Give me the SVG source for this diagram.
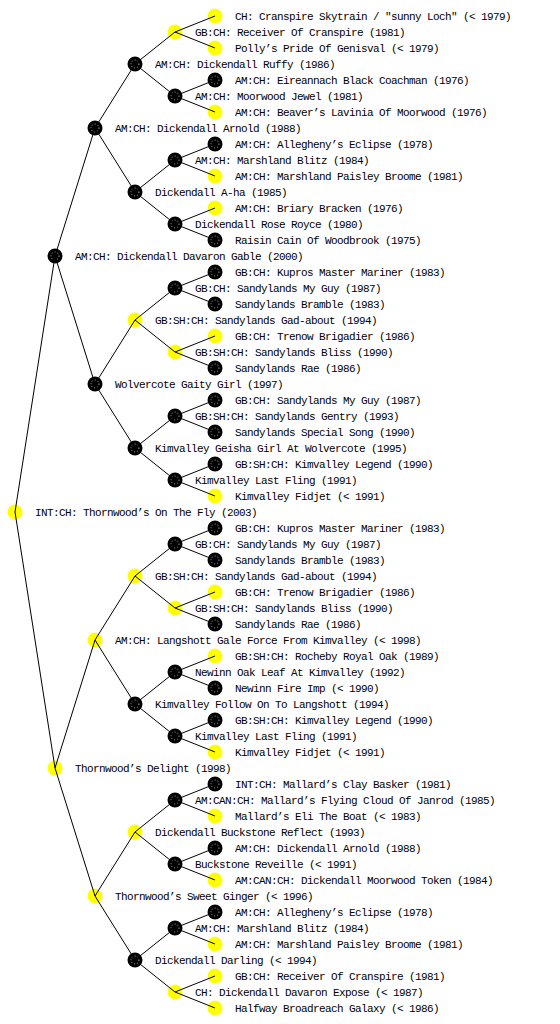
<svg xmlns="http://www.w3.org/2000/svg" width="560" height="1024" viewBox="0 0 560 1024">
<style>
.y{fill:#ffff00}
.b{fill:#000}
.d{fill:none;stroke:#fff;stroke-width:0.7;stroke-dasharray:1 2}
text{font-family:"Liberation Mono","DejaVu Sans Mono",monospace;font-size:11px;letter-spacing:-0.6px;fill:#000}
.e line{stroke:#000;stroke-width:1}
</style>
<rect width="560" height="1024" fill="#fff"/>
<g id="n0"><circle class="y" cx="15" cy="512" r="7.5"/><text x="35" y="516">INT:CH: Thornwood’s On The Fly (2003)</text></g>
<g id="n1"><circle class="b" cx="55" cy="256" r="7.5"/><circle class="d" cx="55" cy="256" r="4"/><text x="75" y="260">AM:CH: Dickendall Davaron Gable (2000)</text></g>
<g id="n2"><circle class="y" cx="55" cy="768" r="7.5"/><text x="75" y="772">Thornwood’s Delight (1998)</text></g>
<g id="n3"><circle class="b" cx="95" cy="128" r="7.5"/><circle class="d" cx="95" cy="128" r="4"/><text x="115" y="132">AM:CH: Dickendall Arnold (1988)</text></g>
<g id="n4"><circle class="b" cx="95" cy="384" r="7.5"/><circle class="d" cx="95" cy="384" r="4"/><text x="115" y="388">Wolvercote Gaity Girl (1997)</text></g>
<g id="n5"><circle class="y" cx="95" cy="640" r="7.5"/><text x="115" y="644">AM:CH: Langshott Gale Force From Kimvalley (&lt; 1998)</text></g>
<g id="n6"><circle class="y" cx="95" cy="896" r="7.5"/><text x="115" y="900">Thornwood’s Sweet Ginger (&lt; 1996)</text></g>
<g id="n7"><circle class="b" cx="135" cy="64" r="7.5"/><circle class="d" cx="135" cy="64" r="4"/><text x="155" y="68">AM:CH: Dickendall Ruffy (1986)</text></g>
<g id="n8"><circle class="b" cx="135" cy="192" r="7.5"/><circle class="d" cx="135" cy="192" r="4"/><text x="155" y="196">Dickendall A-ha (1985)</text></g>
<g id="n9"><circle class="y" cx="135" cy="320" r="7.5"/><text x="155" y="324">GB:SH:CH: Sandylands Gad-about (1994)</text></g>
<g id="n10"><circle class="b" cx="135" cy="448" r="7.5"/><circle class="d" cx="135" cy="448" r="4"/><text x="155" y="452">Kimvalley Geisha Girl At Wolvercote (1995)</text></g>
<g id="n11"><circle class="y" cx="135" cy="576" r="7.5"/><text x="155" y="580">GB:SH:CH: Sandylands Gad-about (1994)</text></g>
<g id="n12"><circle class="b" cx="135" cy="704" r="7.5"/><circle class="d" cx="135" cy="704" r="4"/><text x="155" y="708">Kimvalley Follow On To Langshott (1994)</text></g>
<g id="n13"><circle class="y" cx="135" cy="832" r="7.5"/><text x="155" y="836">Dickendall Buckstone Reflect (1993)</text></g>
<g id="n14"><circle class="b" cx="135" cy="960" r="7.5"/><circle class="d" cx="135" cy="960" r="4"/><text x="155" y="964">Dickendall Darling (&lt; 1994)</text></g>
<g id="n15"><circle class="y" cx="175" cy="32" r="7.5"/><text x="195" y="36">GB:CH: Receiver Of Cranspire (1981)</text></g>
<g id="n16"><circle class="b" cx="175" cy="96" r="7.5"/><circle class="d" cx="175" cy="96" r="4"/><text x="195" y="100">AM:CH: Moorwood Jewel (1981)</text></g>
<g id="n17"><circle class="b" cx="175" cy="160" r="7.5"/><circle class="d" cx="175" cy="160" r="4"/><text x="195" y="164">AM:CH: Marshland Blitz (1984)</text></g>
<g id="n18"><circle class="b" cx="175" cy="224" r="7.5"/><circle class="d" cx="175" cy="224" r="4"/><text x="195" y="228">Dickendall Rose Royce (1980)</text></g>
<g id="n19"><circle class="b" cx="175" cy="288" r="7.5"/><circle class="d" cx="175" cy="288" r="4"/><text x="195" y="292">GB:CH: Sandylands My Guy (1987)</text></g>
<g id="n20"><circle class="y" cx="175" cy="352" r="7.5"/><text x="195" y="356">GB:SH:CH: Sandylands Bliss (1990)</text></g>
<g id="n21"><circle class="b" cx="175" cy="416" r="7.5"/><circle class="d" cx="175" cy="416" r="4"/><text x="195" y="420">GB:SH:CH: Sandylands Gentry (1993)</text></g>
<g id="n22"><circle class="b" cx="175" cy="480" r="7.5"/><circle class="d" cx="175" cy="480" r="4"/><text x="195" y="484">Kimvalley Last Fling (1991)</text></g>
<g id="n23"><circle class="b" cx="175" cy="544" r="7.5"/><circle class="d" cx="175" cy="544" r="4"/><text x="195" y="548">GB:CH: Sandylands My Guy (1987)</text></g>
<g id="n24"><circle class="y" cx="175" cy="608" r="7.5"/><text x="195" y="612">GB:SH:CH: Sandylands Bliss (1990)</text></g>
<g id="n25"><circle class="b" cx="175" cy="672" r="7.5"/><circle class="d" cx="175" cy="672" r="4"/><text x="195" y="676">Newinn Oak Leaf At Kimvalley (1992)</text></g>
<g id="n26"><circle class="b" cx="175" cy="736" r="7.5"/><circle class="d" cx="175" cy="736" r="4"/><text x="195" y="740">Kimvalley Last Fling (1991)</text></g>
<g id="n27"><circle class="b" cx="175" cy="800" r="7.5"/><circle class="d" cx="175" cy="800" r="4"/><text x="195" y="804">AM:CAN:CH: Mallard’s Flying Cloud Of Janrod (1985)</text></g>
<g id="n28"><circle class="b" cx="175" cy="864" r="7.5"/><circle class="d" cx="175" cy="864" r="4"/><text x="195" y="868">Buckstone Reveille (&lt; 1991)</text></g>
<g id="n29"><circle class="b" cx="175" cy="928" r="7.5"/><circle class="d" cx="175" cy="928" r="4"/><text x="195" y="932">AM:CH: Marshland Blitz (1984)</text></g>
<g id="n30"><circle class="y" cx="175" cy="992" r="7.5"/><text x="195" y="996">CH: Dickendall Davaron Expose (&lt; 1987)</text></g>
<g id="n31"><circle class="y" cx="215" cy="16" r="7.5"/><text x="235" y="20">CH: Cranspire Skytrain / "sunny Loch" (&lt; 1979)</text></g>
<g id="n32"><circle class="y" cx="215" cy="48" r="7.5"/><text x="235" y="52">Polly’s Pride Of Genisval (&lt; 1979)</text></g>
<g id="n33"><circle class="b" cx="215" cy="80" r="7.5"/><circle class="d" cx="215" cy="80" r="4"/><text x="235" y="84">AM:CH: Eireannach Black Coachman (1976)</text></g>
<g id="n34"><circle class="y" cx="215" cy="112" r="7.5"/><text x="235" y="116">AM:CH: Beaver’s Lavinia Of Moorwood (1976)</text></g>
<g id="n35"><circle class="b" cx="215" cy="144" r="7.5"/><circle class="d" cx="215" cy="144" r="4"/><text x="235" y="148">AM:CH: Allegheny’s Eclipse (1978)</text></g>
<g id="n36"><circle class="y" cx="215" cy="176" r="7.5"/><text x="235" y="180">AM:CH: Marshland Paisley Broome (1981)</text></g>
<g id="n37"><circle class="y" cx="215" cy="208" r="7.5"/><text x="235" y="212">AM:CH: Briary Bracken (1976)</text></g>
<g id="n38"><circle class="b" cx="215" cy="240" r="7.5"/><circle class="d" cx="215" cy="240" r="4"/><text x="235" y="244">Raisin Cain Of Woodbrook (1975)</text></g>
<g id="n39"><circle class="b" cx="215" cy="272" r="7.5"/><circle class="d" cx="215" cy="272" r="4"/><text x="235" y="276">GB:CH: Kupros Master Mariner (1983)</text></g>
<g id="n40"><circle class="b" cx="215" cy="304" r="7.5"/><circle class="d" cx="215" cy="304" r="4"/><text x="235" y="308">Sandylands Bramble (1983)</text></g>
<g id="n41"><circle class="y" cx="215" cy="336" r="7.5"/><text x="235" y="340">GB:CH: Trenow Brigadier (1986)</text></g>
<g id="n42"><circle class="b" cx="215" cy="368" r="7.5"/><circle class="d" cx="215" cy="368" r="4"/><text x="235" y="372">Sandylands Rae (1986)</text></g>
<g id="n43"><circle class="b" cx="215" cy="400" r="7.5"/><circle class="d" cx="215" cy="400" r="4"/><text x="235" y="404">GB:CH: Sandylands My Guy (1987)</text></g>
<g id="n44"><circle class="b" cx="215" cy="432" r="7.5"/><circle class="d" cx="215" cy="432" r="4"/><text x="235" y="436">Sandylands Special Song (1990)</text></g>
<g id="n45"><circle class="b" cx="215" cy="464" r="7.5"/><circle class="d" cx="215" cy="464" r="4"/><text x="235" y="468">GB:SH:CH: Kimvalley Legend (1990)</text></g>
<g id="n46"><circle class="y" cx="215" cy="496" r="7.5"/><text x="235" y="500">Kimvalley Fidjet (&lt; 1991)</text></g>
<g id="n47"><circle class="b" cx="215" cy="528" r="7.5"/><circle class="d" cx="215" cy="528" r="4"/><text x="235" y="532">GB:CH: Kupros Master Mariner (1983)</text></g>
<g id="n48"><circle class="b" cx="215" cy="560" r="7.5"/><circle class="d" cx="215" cy="560" r="4"/><text x="235" y="564">Sandylands Bramble (1983)</text></g>
<g id="n49"><circle class="y" cx="215" cy="592" r="7.5"/><text x="235" y="596">GB:CH: Trenow Brigadier (1986)</text></g>
<g id="n50"><circle class="b" cx="215" cy="624" r="7.5"/><circle class="d" cx="215" cy="624" r="4"/><text x="235" y="628">Sandylands Rae (1986)</text></g>
<g id="n51"><circle class="y" cx="215" cy="656" r="7.5"/><text x="235" y="660">GB:SH:CH: Rocheby Royal Oak (1989)</text></g>
<g id="n52"><circle class="b" cx="215" cy="688" r="7.5"/><circle class="d" cx="215" cy="688" r="4"/><text x="235" y="692">Newinn Fire Imp (&lt; 1990)</text></g>
<g id="n53"><circle class="b" cx="215" cy="720" r="7.5"/><circle class="d" cx="215" cy="720" r="4"/><text x="235" y="724">GB:SH:CH: Kimvalley Legend (1990)</text></g>
<g id="n54"><circle class="y" cx="215" cy="752" r="7.5"/><text x="235" y="756">Kimvalley Fidjet (&lt; 1991)</text></g>
<g id="n55"><circle class="b" cx="215" cy="784" r="7.5"/><circle class="d" cx="215" cy="784" r="4"/><text x="235" y="788">INT:CH: Mallard’s Clay Basker (1981)</text></g>
<g id="n56"><circle class="y" cx="215" cy="816" r="7.5"/><text x="235" y="820">Mallard’s Eli The Boat (&lt; 1983)</text></g>
<g id="n57"><circle class="b" cx="215" cy="848" r="7.5"/><circle class="d" cx="215" cy="848" r="4"/><text x="235" y="852">AM:CH: Dickendall Arnold (1988)</text></g>
<g id="n58"><circle class="y" cx="215" cy="880" r="7.5"/><text x="235" y="884">AM:CAN:CH: Dickendall Moorwood Token (1984)</text></g>
<g id="n59"><circle class="b" cx="215" cy="912" r="7.5"/><circle class="d" cx="215" cy="912" r="4"/><text x="235" y="916">AM:CH: Allegheny’s Eclipse (1978)</text></g>
<g id="n60"><circle class="y" cx="215" cy="944" r="7.5"/><text x="235" y="948">AM:CH: Marshland Paisley Broome (1981)</text></g>
<g id="n61"><circle class="y" cx="215" cy="976" r="7.5"/><text x="235" y="980">GB:CH: Receiver Of Cranspire (1981)</text></g>
<g id="n62"><circle class="y" cx="215" cy="1008" r="7.5"/><text x="235" y="1012">Halfway Broadreach Galaxy (&lt; 1986)</text></g>
<g id="connectors" class="e">
<line x1="15" y1="512" x2="55" y2="256"/><line x1="15" y1="512" x2="55" y2="768"/>
<line x1="55" y1="256" x2="95" y2="128"/><line x1="55" y1="256" x2="95" y2="384"/>
<line x1="55" y1="768" x2="95" y2="640"/><line x1="55" y1="768" x2="95" y2="896"/>
<line x1="95" y1="128" x2="135" y2="64"/><line x1="95" y1="128" x2="135" y2="192"/>
<line x1="95" y1="384" x2="135" y2="320"/><line x1="95" y1="384" x2="135" y2="448"/>
<line x1="95" y1="640" x2="135" y2="576"/><line x1="95" y1="640" x2="135" y2="704"/>
<line x1="95" y1="896" x2="135" y2="832"/><line x1="95" y1="896" x2="135" y2="960"/>
<line x1="135" y1="64" x2="175" y2="32"/><line x1="135" y1="64" x2="175" y2="96"/>
<line x1="135" y1="192" x2="175" y2="160"/><line x1="135" y1="192" x2="175" y2="224"/>
<line x1="135" y1="320" x2="175" y2="288"/><line x1="135" y1="320" x2="175" y2="352"/>
<line x1="135" y1="448" x2="175" y2="416"/><line x1="135" y1="448" x2="175" y2="480"/>
<line x1="135" y1="576" x2="175" y2="544"/><line x1="135" y1="576" x2="175" y2="608"/>
<line x1="135" y1="704" x2="175" y2="672"/><line x1="135" y1="704" x2="175" y2="736"/>
<line x1="135" y1="832" x2="175" y2="800"/><line x1="135" y1="832" x2="175" y2="864"/>
<line x1="135" y1="960" x2="175" y2="928"/><line x1="135" y1="960" x2="175" y2="992"/>
<line x1="175" y1="32" x2="215" y2="16"/><line x1="175" y1="32" x2="215" y2="48"/>
<line x1="175" y1="96" x2="215" y2="80"/><line x1="175" y1="96" x2="215" y2="112"/>
<line x1="175" y1="160" x2="215" y2="144"/><line x1="175" y1="160" x2="215" y2="176"/>
<line x1="175" y1="224" x2="215" y2="208"/><line x1="175" y1="224" x2="215" y2="240"/>
<line x1="175" y1="288" x2="215" y2="272"/><line x1="175" y1="288" x2="215" y2="304"/>
<line x1="175" y1="352" x2="215" y2="336"/><line x1="175" y1="352" x2="215" y2="368"/>
<line x1="175" y1="416" x2="215" y2="400"/><line x1="175" y1="416" x2="215" y2="432"/>
<line x1="175" y1="480" x2="215" y2="464"/><line x1="175" y1="480" x2="215" y2="496"/>
<line x1="175" y1="544" x2="215" y2="528"/><line x1="175" y1="544" x2="215" y2="560"/>
<line x1="175" y1="608" x2="215" y2="592"/><line x1="175" y1="608" x2="215" y2="624"/>
<line x1="175" y1="672" x2="215" y2="656"/><line x1="175" y1="672" x2="215" y2="688"/>
<line x1="175" y1="736" x2="215" y2="720"/><line x1="175" y1="736" x2="215" y2="752"/>
<line x1="175" y1="800" x2="215" y2="784"/><line x1="175" y1="800" x2="215" y2="816"/>
<line x1="175" y1="864" x2="215" y2="848"/><line x1="175" y1="864" x2="215" y2="880"/>
<line x1="175" y1="928" x2="215" y2="912"/><line x1="175" y1="928" x2="215" y2="944"/>
<line x1="175" y1="992" x2="215" y2="976"/><line x1="175" y1="992" x2="215" y2="1008"/>
</g>
</svg>
